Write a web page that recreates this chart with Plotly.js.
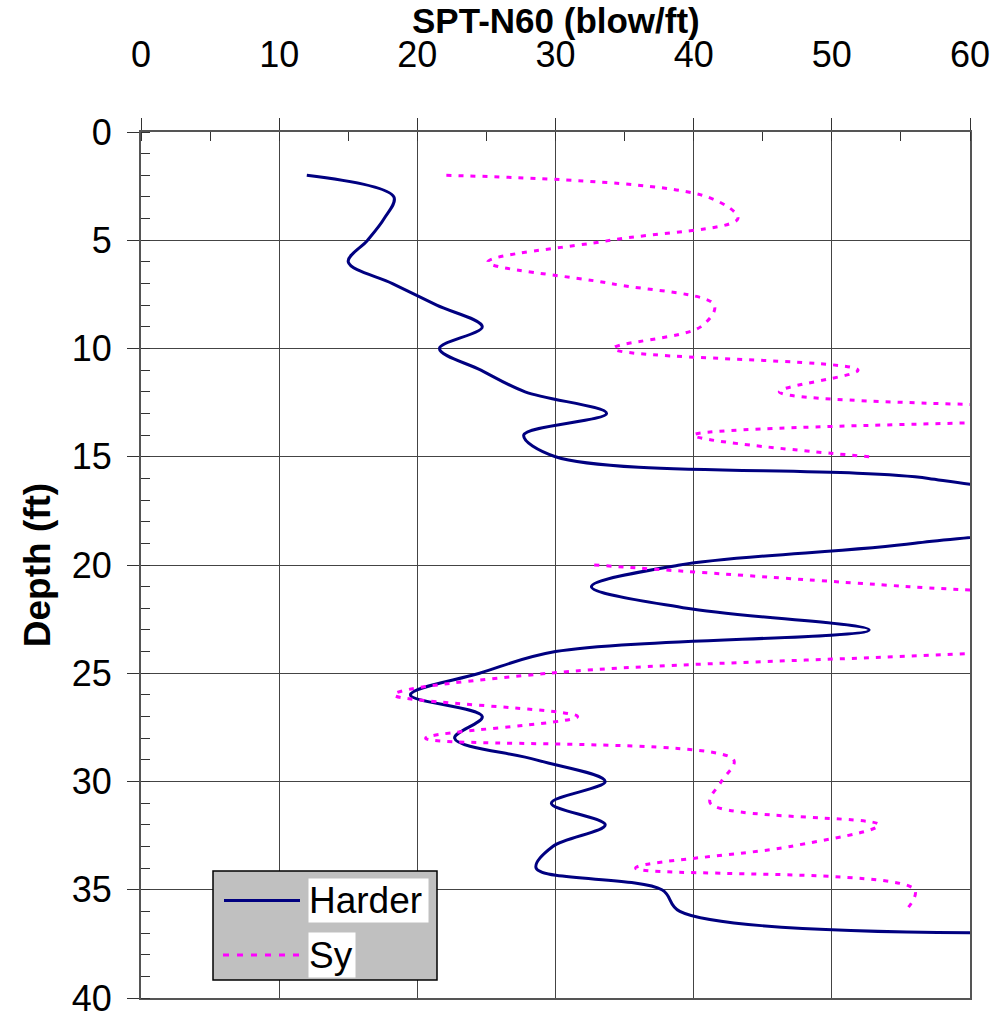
<!DOCTYPE html>
<html>
<head>
<meta charset="utf-8">
<script src="https://cdn.plot.ly/plotly-3.0.1.min.js"></script>
<style>html,body{margin:0;padding:0;background:#fff;}#chart{width:995px;height:1015px;}</style>
</head>
<body>
<div id="chart"></div>
<script>
// Depth (ft) and SPT-N60 values
const depthHarder = [2,3,4,5,6,7,8,9,10,11,12,13,14,15,16,17,18,19,20,21,22,23,24,25,26,27,28,29,30,31,32,33,34,35,36,37];
const harder      = [12,18.3,17.6,16.4,15,18.2,21.4,24.7,21.6,24.6,27.8,33.7,27.7,30,57,64,65,56,39,32.6,39.5,52.7,30,24.5,19.5,24.7,22.7,28.6,33.6,29.7,33.6,29.8,28.6,37.7,39,62];

const depthSy = [2,3,4,5,6,7,8,9,10,11,12,13,14,15,16,17,18,19,20,21,22,23,24,25,26,27,28,29,30,31,32,33,34,35,36];
const sy      = [22.1,41,43.2,34,25.1,34,41.5,40.5,34.2,51.9,46.2,78,40,52.7,null,null,null,null,32.8,55.6,80,85,62.5,29.5,18.3,31.6,20.6,42.9,42,41.2,53.4,47,35.8,56,55.3];

const xTickVals = [0,10,20,30,40,50,60];
const yTickVals = [0,5,10,15,20,25,30,35,40];
const seriesNames = ['Harder','Sy'];
const xTitle = 'SPT-N60 (blow/ft)';
const yTitle = 'Depth (ft)';

const FONT = 'Liberation Sans, Arial, Helvetica, sans-serif';
const navy = '#000080';
const magenta = '#ff00ff';

const traces = [
  {x: harder, y: depthHarder, name: seriesNames[0], mode: 'lines',
   line: {color: navy, width: 3, shape: 'spline', smoothing: 1}},
  {x: sy, y: depthSy, name: seriesNames[1], mode: 'lines', connectgaps: false,
   line: {color: magenta, width: 3, dash: '5px,7px', shape: 'spline', smoothing: 1}}
];

// plot area in pixels: x 141..970, y 132..998
const L = 141, R = 970, T = 132, B = 998;
const px = v => (v - L) / (R - L);
const py = v => (B - v) / (B - T);

const layout = {
  width: 995, height: 1015,
  margin: {l: L, r: 995 - R, t: T, b: 1015 - B, pad: 0},
  paper_bgcolor: '#ffffff', plot_bgcolor: '#ffffff',
  showlegend: false,
  font: {family: FONT, color: '#000'},
  xaxis: {
    side: 'top', range: [0, 60], tickvals: xTickVals, ticktext: xTickVals.map(String),
    ticks: 'outside', ticklen: 12, tickwidth: 1, tickcolor: '#333',
    tickfont: {size: 36, family: FONT}, ticklabelstandoff: 37,
    showgrid: true, gridcolor: '#444', gridwidth: 1, zeroline: false,
    showline: true, linecolor: '#555', linewidth: 2, mirror: true,
    minor: {dtick: 5, ticks: 'inside', ticklen: 9, tickcolor: '#333', showgrid: false}
  },
  yaxis: {
    range: [40, 0], tickvals: yTickVals, ticktext: yTickVals.map(String),
    ticks: 'outside', ticklen: 12, tickwidth: 1, tickcolor: '#333',
    tickfont: {size: 36, family: FONT}, ticklabelstandoff: 8, ticklabeloverflow: 'allow',
    showgrid: true, gridcolor: '#444', gridwidth: 1, zeroline: false,
    showline: true, linecolor: '#555', linewidth: 2, mirror: true,
    minor: {dtick: 1, ticks: 'inside', ticklen: 9, tickcolor: '#333', showgrid: false},
    title: {text: yTitle, font: {size: 37, family: FONT, weight: 'bold'}, standoff: 10}
  },
  shapes: [
    {type: 'rect', xref: 'paper', yref: 'paper', layer: 'above',
     x0: px(213), x1: px(437), y0: py(980), y1: py(871),
     fillcolor: '#c0c0c0', line: {color: '#000', width: 1.5}},
    {type: 'line', xref: 'paper', yref: 'paper', layer: 'above',
     x0: px(224), x1: px(300), y0: py(900.5), y1: py(900.5),
     line: {color: navy, width: 3}},
    {type: 'line', xref: 'paper', yref: 'paper', layer: 'above',
     x0: px(223), x1: px(300), y0: py(955), y1: py(955),
     line: {color: magenta, width: 3, dash: '6px,8px'}}
  ],
  annotations: [
    {xref: 'paper', yref: 'paper', x: px(555.5), y: py(21), xanchor: 'center', yanchor: 'middle',
     text: '<b>' + xTitle + '</b>', showarrow: false,
     font: {size: 35, family: FONT, color: '#000'}},
    {xref: 'paper', yref: 'paper', x: px(308), y: py(900.5), xanchor: 'left', yanchor: 'middle',
     text: seriesNames[0], showarrow: false, bgcolor: '#ffffff', borderpad: 0,
     width: 119, height: 43, align: 'left', font: {size: 37, family: FONT, color: '#000'}},
    {xref: 'paper', yref: 'paper', x: px(308), y: py(955), xanchor: 'left', yanchor: 'middle',
     text: seriesNames[1], showarrow: false, bgcolor: '#ffffff', borderpad: 0,
     width: 46, height: 44, align: 'left', font: {size: 37, family: FONT, color: '#000'}}
  ]
};

Plotly.newPlot('chart', traces, layout, {staticPlot: true, displayModeBar: false});
</script>
</body>
</html>
